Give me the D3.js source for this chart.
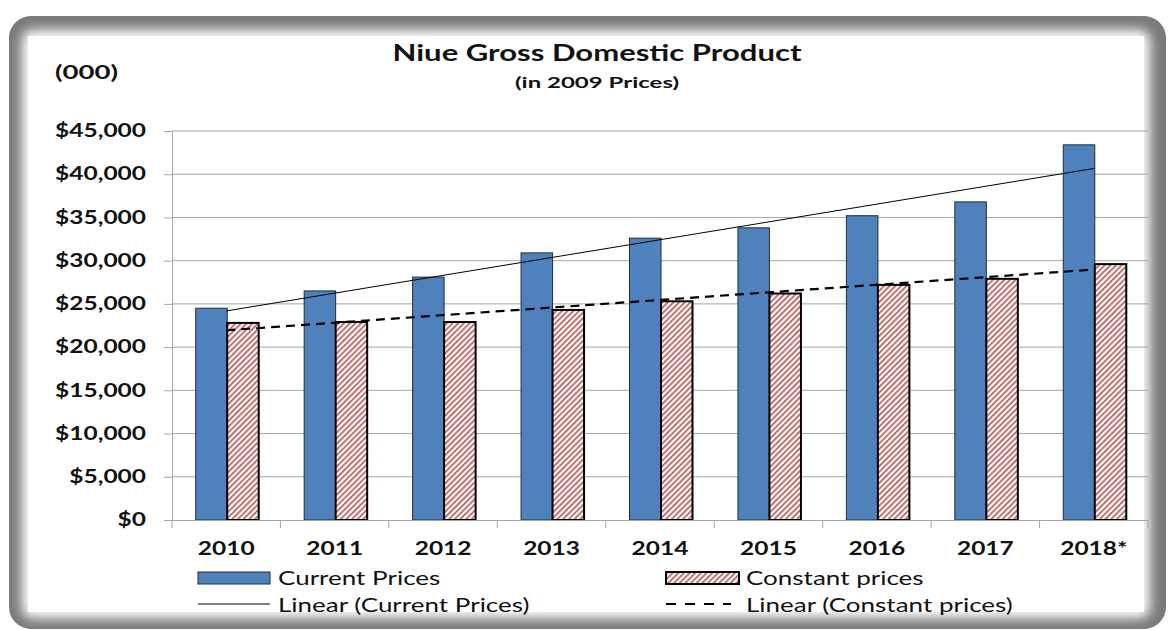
<!DOCTYPE html>
<html><head><meta charset="utf-8">
<script src="https://cdn.jsdelivr.net/npm/d3@7"></script>
<style>body{margin:0;background:#fff;}svg{display:block;}</style>
</head><body>
<script>
const categories = ["2010","2011","2012","2013","2014","2015","2016","2017","2018*"];
const currentPrices = [24500, 26500, 28100, 30900, 32600, 33800, 35200, 36800, 43400];
const constantPrices = [22800, 22900, 22900, 24300, 25300, 26200, 27200, 27900, 29600];
const yTicks = [0,5000,10000,15000,20000,25000,30000,35000,40000,45000];
const seriesNames = ["Current Prices","Constant prices"];

const W = 1172, H = 630;
const svg = d3.select("body").append("svg").attr("width", W).attr("height", H);
const defs = svg.append("defs");

function stretch(sel, k){
  sel.each(function(){
    const w = this.getComputedTextLength();
    d3.select(this).attr("textLength", w*k).attr("lengthAdjust","spacingAndGlyphs");
  });
}

// frame
const blur = defs.append("filter").attr("id","blur").attr("x","-10%").attr("y","-10%").attr("width","120%").attr("height","120%");
blur.append("feGaussianBlur").attr("stdDeviation", 6);
const pat = defs.append("pattern").attr("id","hatch").attr("patternUnits","userSpaceOnUse")
  .attr("width",4).attr("height",4).attr("patternTransform","rotate(45)");
pat.append("rect").attr("width",4).attr("height",4).attr("fill","#fff");
pat.append("rect").attr("width",1.6).attr("height",4).attr("fill","#c0504d");

svg.append("rect").attr("x",9).attr("y",16).attr("width",1157).attr("height",613).attr("rx",22).attr("fill","#7a7a7a");
svg.append("rect").attr("x",22).attr("y",30).attr("width",1128).attr("height",588).attr("rx",10).attr("fill","#fff").attr("filter","url(#blur)");
svg.append("rect").attr("x",28).attr("y",36).attr("width",1116).attr("height",576).attr("fill","#fff");

const font = "Lato, 'Open Sans', sans-serif";
const L = 172, R = 1148, T = 131, B = 520;
const x = d3.scaleBand().domain(categories).range([L, R]).paddingInner(0).paddingOuter(0);
const groupW = 63;
const x1 = d3.scaleBand().domain(seriesNames).range([0, groupW]);
const y = d3.scaleLinear().domain([0, 45000]).range([B, T]);

// gridlines
svg.append("g").selectAll("line").data(yTicks.filter(d=>d>0)).join("line")
  .attr("x1", L).attr("x2", R).attr("y1", d=>y(d)).attr("y2", d=>y(d))
  .attr("stroke","#a6a6a6").attr("stroke-width",1);

// y axis
const yAxis = d3.axisLeft(y).tickValues(yTicks).tickSize(8).tickPadding(18)
  .tickFormat(d => "$" + d3.format(",")(d));
const gy = svg.append("g").attr("transform",`translate(${L},0)`).call(yAxis);
gy.select(".domain").attr("stroke","#a6a6a6");
gy.selectAll(".tick line").attr("stroke","#a6a6a6");
gy.selectAll("text").attr("font-family",font).attr("font-weight","bold").attr("font-size",18).attr("fill","#111");
stretch(gy.selectAll("text"), 1.36);

// bars
const groups = svg.append("g").selectAll("g").data(categories).join("g")
  .attr("transform", d => `translate(${x(d) + (x.bandwidth()-groupW)/2 + 1},0)`);
groups.append("rect").attr("x", x1("Current Prices")).attr("width", x1.bandwidth())
  .attr("y",(d,i)=>y(currentPrices[i])).attr("height",(d,i)=>B - y(currentPrices[i]))
  .attr("fill","#4f81bd").attr("stroke","#1f2d3d").attr("stroke-width",1);
groups.append("rect").attr("x", x1("Constant prices")).attr("width", x1.bandwidth())
  .attr("y",(d,i)=>y(constantPrices[i])).attr("height",(d,i)=>B - y(constantPrices[i]))
  .attr("fill","url(#hatch)").attr("stroke","#000").attr("stroke-width",2);

// x axis
const xAxis = d3.axisBottom(x).tickSize(0).tickPadding(22);
const gx = svg.append("g").attr("transform",`translate(0,${B})`).call(xAxis);
gx.select(".domain").attr("stroke","#a6a6a6");
gx.selectAll("text").attr("font-family",font).attr("font-weight","bold").attr("font-size",18).attr("fill","#111");
stretch(gx.selectAll("text"), 1.36);
svg.append("g").selectAll("line").data(d3.range(categories.length+1)).join("line")
  .attr("x1", i => L + i*x.bandwidth()).attr("x2", i => L + i*x.bandwidth())
  .attr("y1", B).attr("y2", B+8).attr("stroke","#a6a6a6");

// trendlines (least squares)
function linfit(vals){
  const n = vals.length, xs = d3.range(1,n+1);
  const mx = d3.mean(xs), my = d3.mean(vals);
  const s = d3.sum(xs.map((xv,i)=>(xv-mx)*(vals[i]-my))) / d3.sum(xs.map(xv=>(xv-mx)**2));
  return xv => my + s*(xv-mx);
}
const cx = c => x(c) + x.bandwidth()/2;
const f1 = linfit(currentPrices), f2 = linfit(constantPrices);
const n = categories.length;
svg.append("line").attr("x1",cx(categories[0])).attr("y1",y(f1(1)))
  .attr("x2",cx(categories[n-1])).attr("y2",y(f1(n))).attr("stroke","#000").attr("stroke-width",1);
svg.append("line").attr("x1",cx(categories[0])).attr("y1",y(f2(1)))
  .attr("x2",cx(categories[n-1])).attr("y2",y(f2(n))).attr("stroke","#000").attr("stroke-width",2.2)
  .attr("stroke-dasharray","9,6");

// titles
const t1 = svg.append("text").attr("x",597).attr("y",61).attr("text-anchor","middle").attr("font-family",font)
  .attr("font-weight","bold").attr("font-size",23).attr("fill","#111").text("Niue Gross Domestic Product");
stretch(t1, 1.35);
const t2 = svg.append("text").attr("x",597).attr("y",88).attr("text-anchor","middle").attr("font-family",font)
  .attr("font-weight","bold").attr("font-size",16).attr("fill","#111").text("(in 2009 Prices)");
stretch(t2, 1.5);
const t3 = svg.append("text").attr("x",55).attr("y",79).attr("font-family",font)
  .attr("font-weight","bold").attr("font-size",19).attr("fill","#111").text("(000)");
stretch(t3, 1.45);

// legend
const lg = svg.append("g").attr("font-family",font).attr("font-size",20).attr("fill","#111");
lg.append("rect").attr("x",198).attr("y",572).attr("width",72).attr("height",12).attr("fill","#4f81bd").attr("stroke","#1f2d3d");
lg.append("text").attr("x",278).attr("y",585).text(seriesNames[0]);
lg.append("rect").attr("x",666).attr("y",572).attr("width",73).attr("height",12).attr("fill","url(#hatch)").attr("stroke","#000").attr("stroke-width",2);
lg.append("text").attr("x",746).attr("y",585).text(seriesNames[1]);
lg.append("line").attr("x1",198).attr("x2",270).attr("y1",604).attr("y2",604).attr("stroke","#000");
lg.append("text").attr("x",278).attr("y",612).text("Linear (Current Prices)");
lg.append("line").attr("x1",666).attr("x2",731).attr("y1",604).attr("y2",604).attr("stroke","#000").attr("stroke-width",2.2).attr("stroke-dasharray","10,9");
lg.append("text").attr("x",746).attr("y",612).text("Linear (Constant prices)");
stretch(lg.selectAll("text"), 1.3);
</script>
</body></html>
